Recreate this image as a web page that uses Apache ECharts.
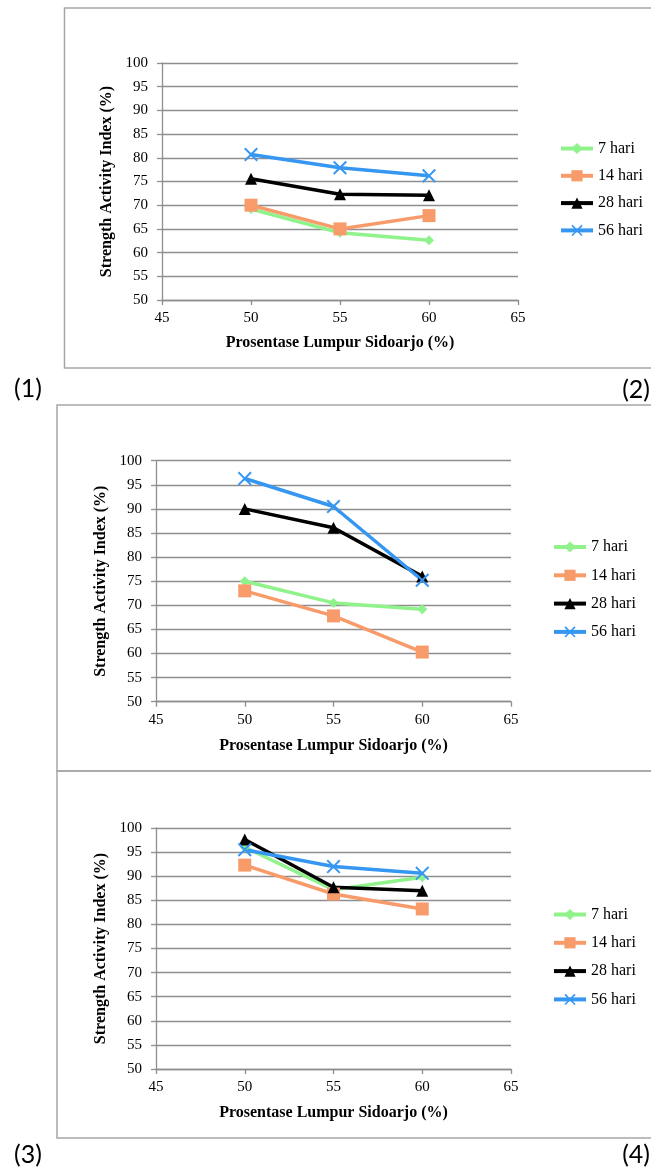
<!DOCTYPE html>
<html>
<head>
<meta charset="utf-8">
<script src="https://cdn.jsdelivr.net/npm/echarts@6/dist/echarts.min.js"></script>
<style>
  html, body { margin: 0; padding: 0; background: #fff; }
  #main { width: 651px; height: 1173px; }
</style>
</head>
<body>
<div id="main"></div>
<script>
  // kadar lumpur (x) dan nama umur benda uji
  const xVals = [50, 55, 60];
  const names = ['7 hari', '14 hari', '28 hari', '56 hari'];
  const panelLabels = ['(1)', '(2)', '(3)', '(4)'];

  // grafik 1
  const c1_7 = [69.2, 64.2, 62.6];
  const c1_14 = [70.0, 65.0, 67.8];
  const c1_28 = [75.6, 72.3, 72.1];
  const c1_56 = [80.7, 77.9, 76.2];

  // grafik 2
  const c2_7 = [75.0, 70.5, 69.2];
  const c2_14 = [73.0, 67.8, 60.3];
  const c2_28 = [90.0, 86.1, 76.0];
  const c2_56 = [96.3, 90.5, 75.2];

  // grafik 3
  const c3_7 = [96.0, 87.2, 89.8];
  const c3_14 = [92.3, 86.3, 83.2];
  const c3_28 = [97.6, 87.7, 87.0];
  const c3_56 = [95.5, 92.0, 90.6];

  const serif = "'Liberation Serif', 'Times New Roman', serif";
  const gridGray = '#8e8e8e';

  const styles = [
    { color: '#8ff28b', symbol: 'diamond', size: 10 },
    { color: '#f89b6b', symbol: 'rect', size: 13 },
    { color: '#000000', symbol: 'triangle', size: 12 },
    { color: '#3597f2', symbol: 'path://M0,1L1,0L5,4L9,0L10,1L6,5L10,9L9,10L5,6L1,10L0,9L4,5Z', size: 14 }
  ];

  const chart = echarts.init(document.getElementById('main'));

  function pairs(vals) {
    return vals.map((v, i) => [xVals[i], v]);
  }

  function xAxisFor(idx, gap) {
    return {
      type: 'value', gridIndex: idx, min: 45, max: 65, interval: 5,
      name: 'Prosentase Lumpur Sidoarjo (%)',
      nameLocation: 'middle', nameGap: gap,
      nameTextStyle: { fontFamily: serif, fontWeight: 'bold', fontSize: 16, color: '#000' },
      axisLine: { show: true, onZero: false, lineStyle: { color: gridGray, width: 1.3 } },
      axisTick: { show: true, length: 5, lineStyle: { color: gridGray, width: 1.3 } },
      axisLabel: { margin: 11, fontFamily: serif, fontSize: 15, color: '#000' },
      splitLine: { show: false }
    };
  }

  function yAxisFor(idx, gap) {
    return {
      type: 'value', gridIndex: idx, min: 50, max: 100, interval: 5,
      name: 'Strength Activity Index (%)',
      nameLocation: 'middle', nameGap: gap,
      nameTextStyle: { fontFamily: serif, fontWeight: 'bold', fontSize: 16, color: '#000' },
      axisLine: { show: true, lineStyle: { color: gridGray, width: 1.3 } },
      axisTick: { show: true, length: 5, lineStyle: { color: gridGray, width: 1.3 } },
      axisLabel: { margin: 14, fontFamily: serif, fontSize: 15, color: '#000' },
      splitLine: { show: true, lineStyle: { color: gridGray, width: 1.3 } }
    };
  }

  function seriesFor(idx, sets) {
    return sets.map((vals, k) => ({
      name: names[k],
      type: 'line',
      xAxisIndex: idx,
      yAxisIndex: idx,
      symbol: styles[k].symbol,
      symbolSize: styles[k].size,
      lineStyle: { width: 3.5, color: styles[k].color },
      itemStyle: { color: styles[k].color },
      data: pairs(vals)
    }));
  }

  function legendFor(left, top, gap) {
    return {
      orient: 'vertical', left: left, top: top, padding: 0,
      itemWidth: 32, itemHeight: 14, itemGap: gap,
      selectedMode: false,
      lineStyle: { width: 4 },
      textStyle: { fontFamily: serif, fontSize: 16, color: '#000' },
      data: names
    };
  }

  function panelLabel(text, x, y, align) {
    return {
      type: 'text', z: 10,
      style: { x: x, y: y, text: text, align: align, verticalAlign: 'middle',
               font: '25px Lato', fill: '#000' }
    };
  }

  function frame(x, y, h) {
    return {
      type: 'rect', z: -1,
      shape: { x: x, y: y, width: 700, height: h },
      style: { fill: 'none', stroke: '#a6a6a6', lineWidth: 1.5 }
    };
  }

  chart.setOption({
    animation: false,
    textStyle: { fontFamily: serif },
    grid: [
      { left: 162, top: 63, width: 356, height: 237 },
      { left: 156, top: 460.7, width: 355, height: 241 },
      { left: 156, top: 828, width: 355, height: 241 }
    ],
    xAxis: [xAxisFor(0, 35), xAxisFor(1, 36), xAxisFor(2, 36)],
    yAxis: [yAxisFor(0, 40), yAxisFor(1, 42), yAxisFor(2, 42)],
    legend: [legendFor(559, 140.5, 11.3), legendFor(552, 539, 12.3), legendFor(552, 906.5, 12.3)],
    series: [].concat(
      seriesFor(0, [c1_7, c1_14, c1_28, c1_56]),
      seriesFor(1, [c2_7, c2_14, c2_28, c2_56]),
      seriesFor(2, [c3_7, c3_14, c3_28, c3_56])
    ),
    graphic: [
      frame(64.5, 8, 360),
      frame(57, 405, 366),
      frame(57, 771, 367),
      panelLabel(panelLabels[0], 14, 389, 'left'),
      panelLabel(panelLabels[1], 650, 390, 'right'),
      panelLabel(panelLabels[2], 14, 1155, 'left'),
      panelLabel(panelLabels[3], 650, 1155, 'right')
    ]
  });
</script>
</body>
</html>
